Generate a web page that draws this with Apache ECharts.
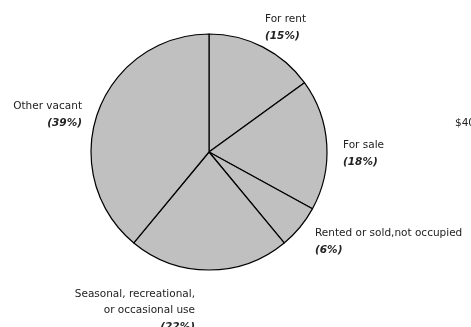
<!DOCTYPE html>
<html>
<head>
<meta charset="utf-8">
<script src="https://cdn.jsdelivr.net/npm/echarts@6/dist/echarts.min.js"></script>
<style>
  html, body { margin: 0; padding: 0; background: #fff; }
  #main { width: 471px; height: 327px; }
</style>
</head>
<body>
<div id="main"></div>
<script>
// vacancy status shares, clockwise from 12 o'clock
const categories = ['For rent', 'For sale', 'Rented or sold,not occupied', 'Seasonal, recreational,\nor occasional use', 'Other vacant'];
const shares = [15, 18, 6, 22, 39];

// where each label sits (x, y of the anchor, alignment)
const labelSpots = [
  { x: 265, y: 11, align: 'left' },
  { x: 343, y: 137, align: 'left' },
  { x: 315, y: 225, align: 'left' },
  { x: 195, y: 286, align: 'right' },
  { x: 82, y: 98, align: 'right' }
];

const chart = echarts.init(document.getElementById('main'));

chart.setOption({
  animation: false,
  series: [{
    type: 'pie',
    center: [209, 152],
    radius: 118,
    startAngle: 90,
    clockwise: true,
    silent: true,
    itemStyle: { color: '#c0c0c0', borderColor: '#000', borderWidth: 1.2 },
    label: {
      show: true,
      overflow: 'none',
      formatter: (p) => {
        const lines = p.name.split('\n').map(s => `{n|${s}}`).join('\n');
        return `${lines}\n{p|(${p.value}%)}`;
      },
      rich: {
        n: { fontFamily: 'DejaVu Sans', fontSize: 10.5, color: '#222', lineHeight: 16 },
        p: { fontFamily: 'DejaVu Sans', fontSize: 10.5, fontStyle: 'italic', fontWeight: 'bold', color: '#222', lineHeight: 18 }
      }
    },
    labelLine: { show: false },
    labelLayout: (params) => {
      const s = labelSpots[params.dataIndex];
      return { x: s.x, y: s.y, align: s.align, verticalAlign: 'top' };
    },
    data: categories.map((c, i) => ({ name: c, value: shares[i] }))
  }],
  graphic: [{
    type: 'text',
    left: 455,
    top: 118,
    style: { text: '$40', fontFamily: 'DejaVu Sans', fontSize: 10.5, fill: '#222' }
  }]
});
</script>
</body>
</html>
